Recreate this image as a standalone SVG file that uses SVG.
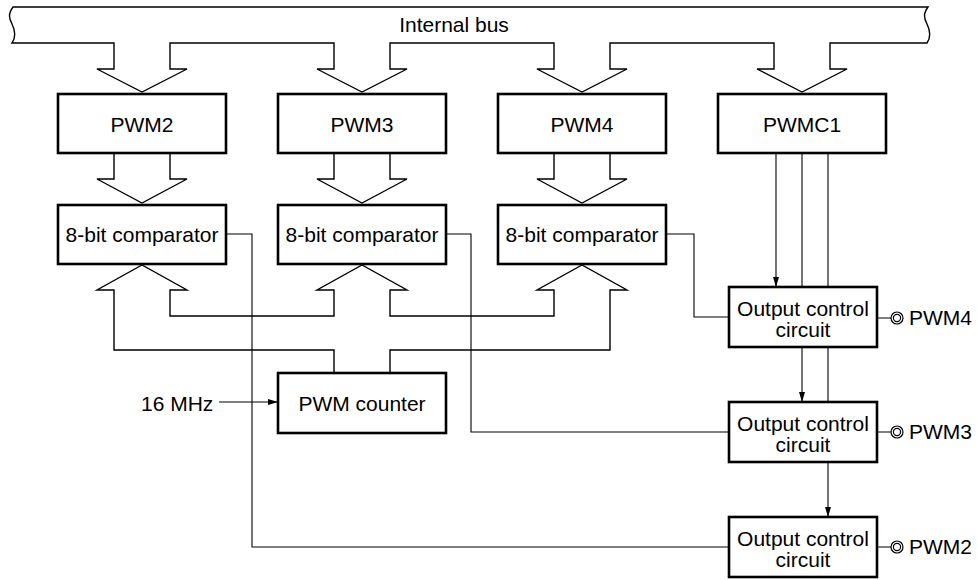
<svg xmlns="http://www.w3.org/2000/svg" width="977" height="580" viewBox="0 0 977 580">
<defs>
<style>
.box{fill:#fff;stroke:#000;stroke-width:2.6}
.t{font-family:"Liberation Sans",Arial,Helvetica,sans-serif;font-size:21px;fill:#000}
.m{text-anchor:middle}
.ln{fill:none;stroke:#000;stroke-width:1.1}
.hb{fill:none;stroke:#000;stroke-width:1.4;stroke-linejoin:miter}
.pin{fill:#fff;stroke:#000;stroke-width:1.2}
</style>
<marker id="ah" viewBox="0 0 10 6" refX="10" refY="3" markerWidth="10" markerHeight="6" markerUnits="userSpaceOnUse" orient="auto">
<path d="M0,0 L10,3 L0,6 Z" fill="#000"/>
</marker>
</defs>
<rect width="977" height="580" fill="#fff"/>

<g id="internal-bus">
<path class="hb" d="M13 7 H928 C923 14 924 18 927 24 C930 30 931 37 927 43 H830 V69 H847 L802 92 L757 69 H774 V43 H610 V69 H627 L582 92 L537 69 H554 V43 H390 V69 H407 L362 92 L317 69 H334 V43 H170 V69 H187 L142 92 L97 69 H114 V43 H12 C16 37 15 30 12 24 C9 18 8 14 13 7 Z"/>
<text class="t m" x="454" y="32">Internal bus</text>
</g>

<g id="connectors">
<!-- PWM regs to comparators -->
<path class="hb" d="M114 153 V179 H97 L142 203 L187 179 H170 V153"/>
<path class="hb" d="M334 153 V179 H317 L362 203 L407 179 H390 V153"/>
<path class="hb" d="M554 153 V179 H537 L582 203 L627 179 H610 V153"/>
<!-- PWM counter hollow bus to comparators -->
<path class="hb" d="M334 373 V350 H114 V290 H97 L142 265 L187 290 H170 V316 H334 V290 H317 L362 265 L407 290 H390 V316 H554 V290 H537 L582 265 L627 290 H610 V350 H390 V373"/>
<!-- comparator outputs -->
<path class="ln" d="M226 234 H252 V547 H729"/>
<path class="ln" d="M446 234 H471 V432 H729"/>
<path class="ln" d="M666 234 H694 V317 H729"/>
<!-- PWMC1 control lines -->
<path class="ln" d="M776 153 V287" marker-end="url(#ah)"/>
<path class="ln" d="M802 153 V402" marker-end="url(#ah)"/>
<path class="ln" d="M828 153 V517" marker-end="url(#ah)"/>
<!-- 16 MHz clock -->
<path class="ln" d="M219 402 H278" marker-end="url(#ah)"/>
<!-- output pins -->
<path class="ln" d="M877 318 H891 M877 432 H891 M877 547 H891"/>
</g>

<g id="pwm2"><rect class="box" x="58" y="94" width="168" height="59"/><text class="t m" x="142" y="132">PWM2</text></g>
<g id="pwm3"><rect class="box" x="278" y="94" width="168" height="59"/><text class="t m" x="362" y="132">PWM3</text></g>
<g id="pwm4"><rect class="box" x="498" y="94" width="168" height="59"/><text class="t m" x="582" y="132">PWM4</text></g>
<g id="pwmc1"><rect class="box" x="718" y="94" width="168" height="59"/><text class="t m" x="802" y="132">PWMC1</text></g>

<g id="cmp2"><rect class="box" x="58" y="205" width="168" height="59"/><text class="t m" x="142" y="242">8-bit comparator</text></g>
<g id="cmp3"><rect class="box" x="278" y="205" width="168" height="59"/><text class="t m" x="362" y="242">8-bit comparator</text></g>
<g id="cmp4"><rect class="box" x="498" y="205" width="168" height="59"/><text class="t m" x="582" y="242">8-bit comparator</text></g>

<g id="pwm-counter"><rect class="box" x="278" y="373" width="168" height="60"/><text class="t m" x="362" y="411">PWM counter</text></g>
<g id="clk"><text class="t" x="141" y="411">16 MHz</text></g>

<g id="occ4"><rect class="box" x="729" y="287" width="148" height="60"/><text class="t m" x="803" y="316">Output control</text><text class="t m" x="803" y="337">circuit</text></g>
<g id="occ3"><rect class="box" x="729" y="402" width="148" height="60"/><text class="t m" x="803" y="431">Output control</text><text class="t m" x="803" y="452">circuit</text></g>
<g id="occ2"><rect class="box" x="729" y="517" width="148" height="60"/><text class="t m" x="803" y="546">Output control</text><text class="t m" x="803" y="567">circuit</text></g>

<g id="pin-pwm4"><circle class="pin" cx="897" cy="318" r="6"/><circle class="pin" cx="897" cy="318" r="3.6"/><text class="t" x="909" y="325">PWM4</text></g>
<g id="pin-pwm3"><circle class="pin" cx="897" cy="432" r="6"/><circle class="pin" cx="897" cy="432" r="3.6"/><text class="t" x="909" y="439">PWM3</text></g>
<g id="pin-pwm2"><circle class="pin" cx="897" cy="547" r="6"/><circle class="pin" cx="897" cy="547" r="3.6"/><text class="t" x="909" y="554">PWM2</text></g>
</svg>
